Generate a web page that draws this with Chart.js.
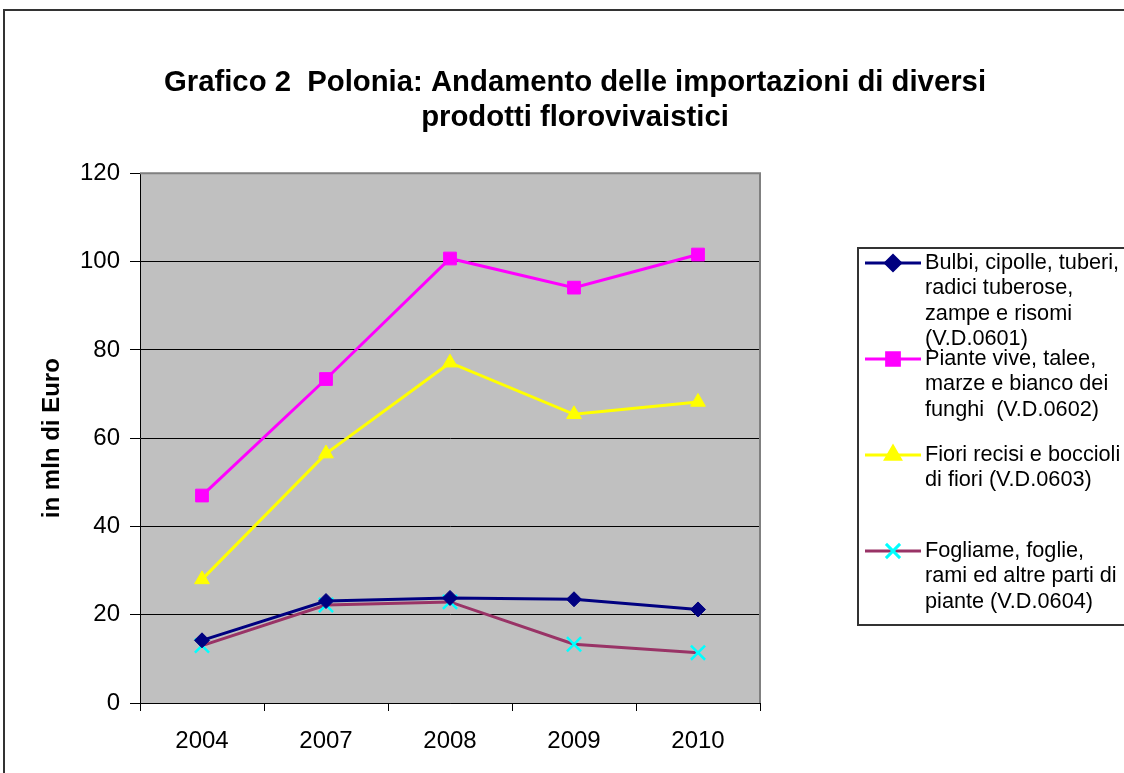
<!DOCTYPE html>
<html>
<head>
<meta charset="utf-8">
<script src="https://cdn.jsdelivr.net/npm/chart.js@4/dist/chart.umd.min.js"></script>
<style>
  html, body { margin: 0; padding: 0; background: #fff; }
  canvas { display: block; }
</style>
</head>
<body>
<canvas id="chart" width="1124" height="773"></canvas>
<script>
// data
const years = ['2004', '2007', '2008', '2009', '2010'];
const bulbi    = [14.2, 23.1, 23.8, 23.5, 21.2];
const piante   = [47.0, 73.4, 100.7, 94.1, 101.6];
const fiori    = [28.0, 56.5, 77.1, 65.4, 68.2];
const fogliame = [13.0, 22.2, 22.9, 13.3, 11.4];

const seriesLabels = [
  ['Bulbi, cipolle, tuberi,', 'radici tuberose,', 'zampe e risomi', '(V.D.0601)'],
  ['Piante vive, talee,', 'marze e bianco dei', 'funghi  (V.D.0602)'],
  ['Fiori recisi e boccioli', 'di fiori (V.D.0603)'],
  ['Fogliame, foglie,', 'rami ed altre parti di', 'piante (V.D.0604)']
];
const titleLines = ['Grafico 2  Polonia: Andamento delle importazioni di diversi', 'prodotti florovivaistici'];
const yTitle = 'in mln di Euro';
const yMin = 0, yMax = 120, yStep = 20;

const FONT = "'Liberation Sans', Arial, sans-serif";

// white page, outer frame, grey plot area
const backdrop = {
  id: 'backdrop',
  beforeDraw(chart){
    const {ctx, chartArea: a} = chart;
    ctx.save();
    ctx.fillStyle = '#fff';
    ctx.fillRect(0, 0, chart.width, chart.height);
    ctx.strokeStyle = '#333';
    ctx.lineWidth = 2;
    ctx.strokeRect(4, 10, chart.width + 20, chart.height + 20);
    ctx.fillStyle = '#C0C0C0';
    ctx.fillRect(a.left, a.top, a.right - a.left, a.bottom - a.top);
    ctx.restore();
  },
  beforeDatasetsDraw(chart){
    const {ctx, chartArea: a} = chart;
    ctx.save();
    ctx.strokeStyle = '#808080';
    ctx.lineWidth = 2;
    ctx.beginPath();
    ctx.moveTo(a.left, a.top);
    ctx.lineTo(a.right, a.top);
    ctx.lineTo(a.right, a.bottom);
    ctx.stroke();
    ctx.restore();
  }
};

// boxed legend on the right with wrapped labels
const sideLegend = {
  id: 'sideLegend',
  afterDraw(chart){
    const {ctx} = chart;
    const box = {x: 858, y: 248, w: 300, h: 377};
    ctx.save();
    ctx.fillStyle = '#fff';
    ctx.fillRect(box.x, box.y, box.w, box.h);
    ctx.strokeStyle = '#333';
    ctx.lineWidth = 2;
    ctx.strokeRect(box.x, box.y, box.w, box.h);
    chart.data.datasets.forEach((ds, i) => {
      const y = 263 + i * 96;
      ctx.strokeStyle = ds.borderColor;
      ctx.lineWidth = ds.borderWidth;
      ctx.beginPath();
      ctx.moveTo(865, y);
      ctx.lineTo(921, y);
      ctx.stroke();
      ctx.fillStyle = ds.pointBackgroundColor;
      ctx.strokeStyle = ds.pointBorderColor;
      Chart.helpers.drawPoint(ctx, {
        pointStyle: ds.pointStyle, radius: ds.pointRadius, rotation: 0, borderWidth: ds.pointBorderWidth
      }, 893, y);
      ctx.fillStyle = '#000';
      ctx.font = '21.7px ' + FONT;
      ctx.textAlign = 'left';
      ctx.textBaseline = 'middle';
      seriesLabels[i].forEach((line, j) => ctx.fillText(line, 925, y + j * 25.5));
    });
    ctx.restore();
  }
};

const ds = (data, color, pointColor, style, radius, pbw) => ({
  data,
  borderColor: color,
  borderWidth: 3,
  backgroundColor: pointColor,
  pointBackgroundColor: pointColor,
  pointBorderColor: pointColor,
  pointBorderWidth: pbw,
  pointStyle: style,
  pointRadius: radius,
  pointHoverRadius: radius,
  tension: 0,
  fill: false
});

new Chart(document.getElementById('chart'), {
  type: 'line',
  data: {
    labels: years,
    datasets: [
      ds(bulbi, '#000080', '#000080', 'rectRot', 7.5, 1),
      ds(piante, '#FF00FF', '#FF00FF', 'rect', 9, 1),
      ds(fiori, '#FFFF00', '#FFFF00', 'triangle', 8.5, 1),
      ds(fogliame, '#993366', '#00FFFF', 'crossRot', 10, 2.5)
    ]
  },
  options: {
    responsive: false,
    animation: false,
    layout: { padding: { left: 26, right: 0, top: 0, bottom: 0 } },
    plugins: {
      legend: { display: false },
      tooltip: { enabled: false },
      title: {
        display: true,
        text: titleLines,
        color: '#000',
        font: { family: FONT, size: 29.3, weight: 'bold', lineHeight: 1.2 },
        padding: { top: 65, bottom: 38 }
      }
    },
    scales: {
      x: {
        type: 'category',
        offset: true,
        grid: { offset: true, drawOnChartArea: false, drawTicks: true, tickLength: 8, color: '#000' },
        border: { display: true, color: '#000', width: 1 },
        ticks: { color: '#000', padding: 16, font: { family: FONT, size: 24 } },
        afterFit(scale){ scale.height = 70; }
      },
      y: {
        min: yMin, max: yMax,
        ticks: { stepSize: yStep, color: '#000', padding: 10, font: { family: FONT, size: 24 } },
        grid: { color: '#000', lineWidth: 1, drawTicks: true, tickLength: 10 },
        border: { display: true, color: '#000', width: 1 },
        title: {
          display: true, text: yTitle, color: '#000',
          font: { family: FONT, size: 24, weight: 'bold' },
          padding: { top: 12, bottom: 0 }
        },
        afterFit(scale){ scale.width = 114; }
      },
      spacer: {
        position: 'right',
        display: true,
        grid: { display: false, drawTicks: false },
        border: { display: false },
        ticks: { display: false },
        afterFit(scale){ scale.width = 364; }
      }
    }
  },
  plugins: [backdrop, sideLegend]
});
</script>
</body>
</html>
